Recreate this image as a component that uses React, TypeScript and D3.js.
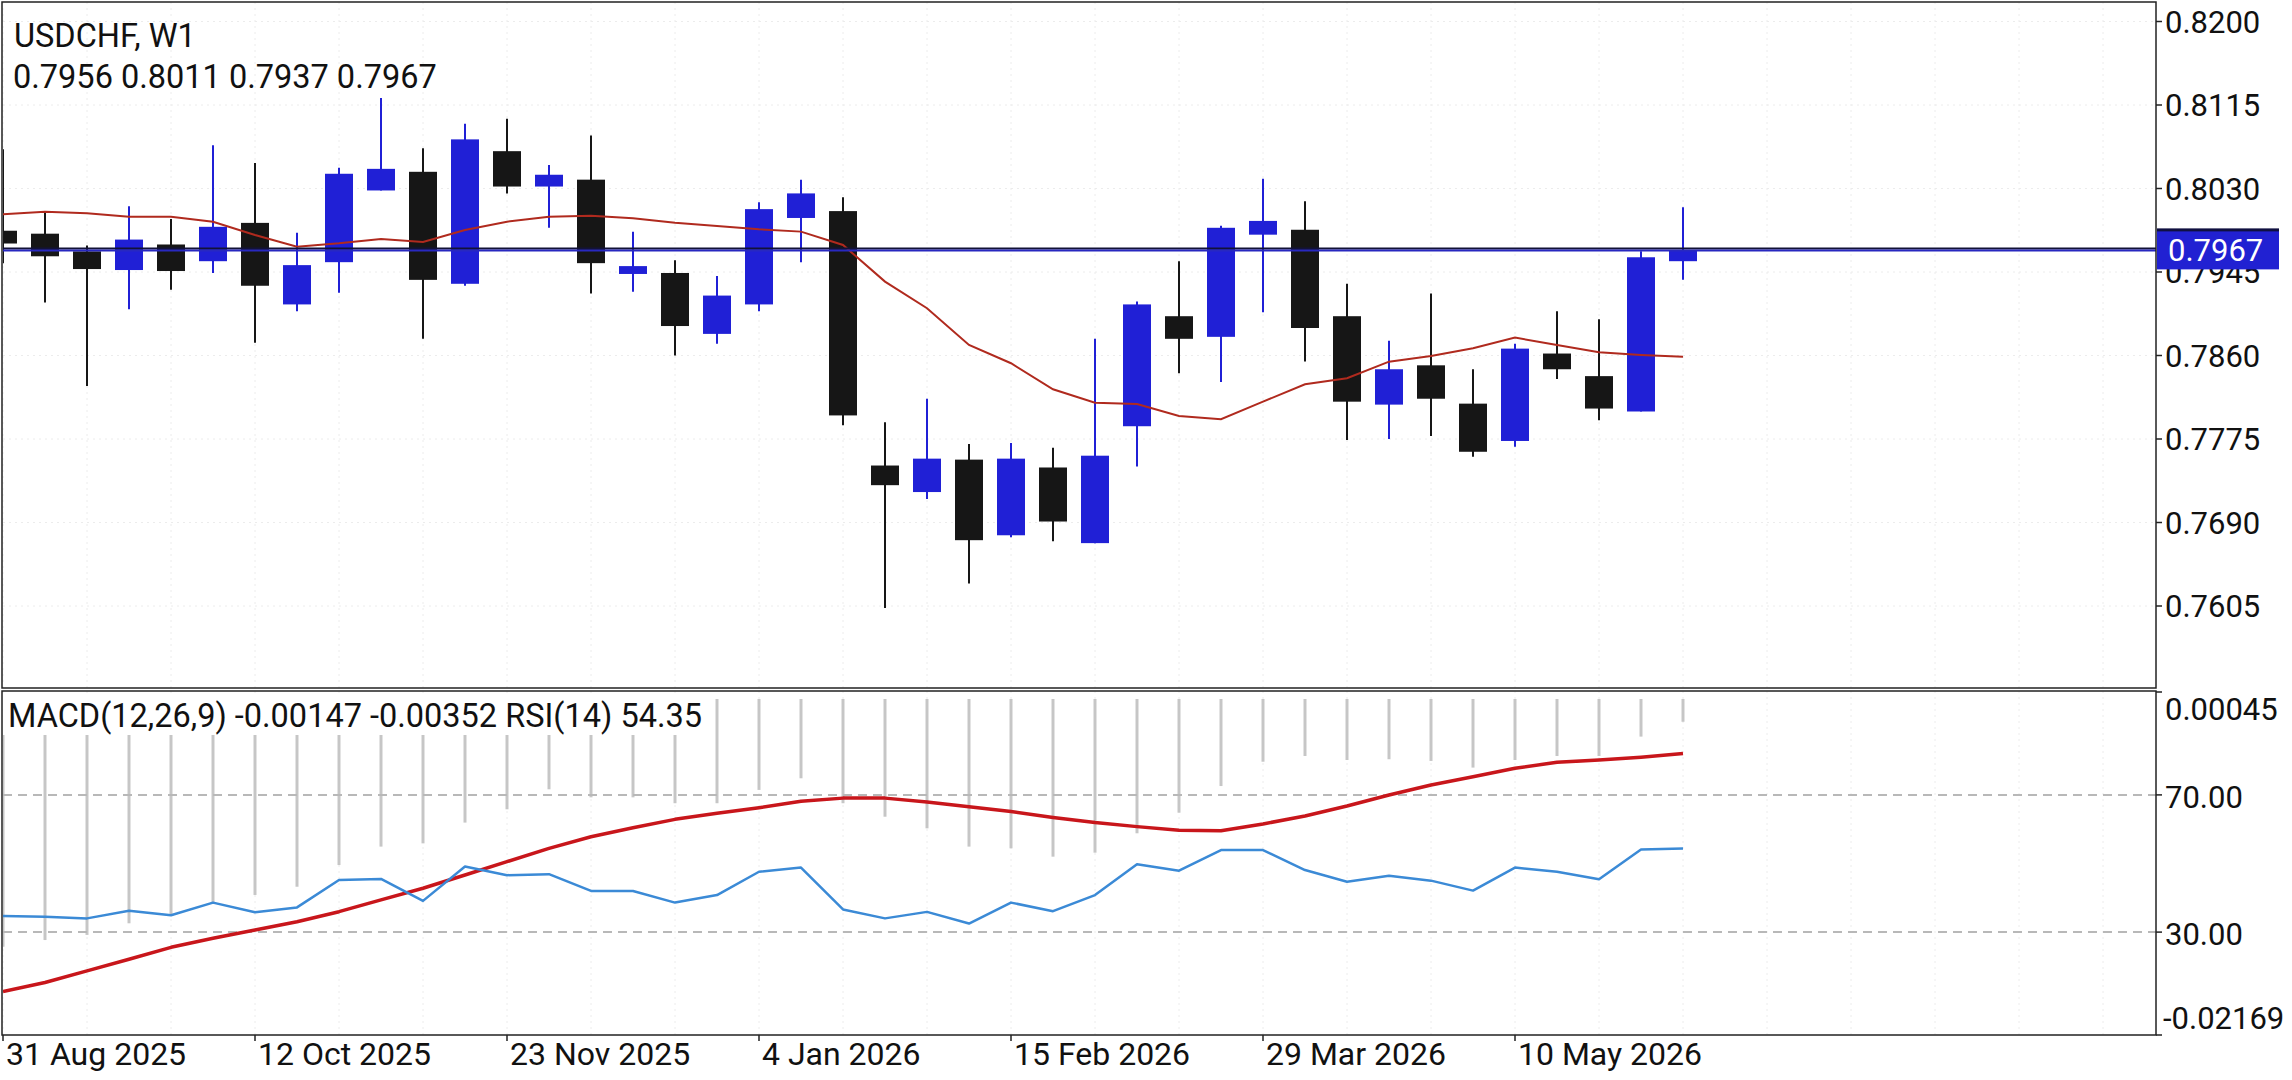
import React, { useEffect } from 'react';
import * as d3 from 'd3';

// weekly USDCHF candles, first bar = week of 31 Aug 2025
const opens = [0.7987, 0.7984, 0.7966, 0.7947, 0.7973, 0.7956, 0.7995, 0.7912, 0.7955, 0.8028, 0.8047, 0.7933, 0.8068, 0.8032, 0.8039, 0.7943, 0.7944, 0.7882, 0.7912, 0.8000, 0.8007, 0.7748, 0.7721, 0.7754, 0.7677, 0.7746, 0.7669, 0.7788, 0.7900, 0.7879, 0.7983, 0.7988, 0.7900, 0.7810, 0.7850, 0.7811, 0.7773, 0.7862, 0.7839, 0.7803, 0.7956];
const highs = [0.8070, 0.8006, 0.7972, 0.8012, 0.7999, 0.8074, 0.8056, 0.7985, 0.8051, 0.8122, 0.8071, 0.8096, 0.8101, 0.8054, 0.8084, 0.7986, 0.7957, 0.7941, 0.8016, 0.8039, 0.8021, 0.7792, 0.7816, 0.7770, 0.7771, 0.7766, 0.7877, 0.7915, 0.7956, 0.7992, 0.8040, 0.8017, 0.7933, 0.7875, 0.7923, 0.7846, 0.7872, 0.7905, 0.7897, 0.7966, 0.8011];
const lows = [0.7954, 0.7914, 0.7829, 0.7907, 0.7927, 0.7944, 0.7873, 0.7905, 0.7924, 0.8028, 0.7877, 0.7931, 0.8025, 0.7990, 0.7923, 0.7925, 0.7860, 0.7872, 0.7905, 0.7955, 0.7789, 0.7603, 0.7714, 0.7628, 0.7675, 0.7671, 0.7669, 0.7747, 0.7842, 0.7833, 0.7904, 0.7854, 0.7774, 0.7775, 0.7778, 0.7757, 0.7767, 0.7836, 0.7794, 0.7803, 0.7937];
const closes = [0.7974, 0.7961, 0.7948, 0.7978, 0.7946, 0.7991, 0.7931, 0.7952, 0.8045, 0.8050, 0.7937, 0.8080, 0.8032, 0.8044, 0.7954, 0.7951, 0.7890, 0.7921, 0.8009, 0.8025, 0.7799, 0.7728, 0.7755, 0.7672, 0.7755, 0.7691, 0.7758, 0.7912, 0.7877, 0.7990, 0.7997, 0.7888, 0.7813, 0.7846, 0.7816, 0.7762, 0.7867, 0.7846, 0.7806, 0.7960, 0.7967];

const maValues = [0.80038, 0.80064, 0.80048, 0.80013, 0.80013, 0.79962, 0.79827, 0.79708, 0.79742, 0.79786, 0.79756, 0.79878, 0.79962, 0.80013, 0.80023, 0.79997, 0.79952, 0.79919, 0.79885, 0.79861, 0.79725, 0.79352, 0.79081, 0.78707, 0.78521, 0.78256, 0.78120, 0.78107, 0.77985, 0.77951, 0.78130, 0.78307, 0.78368, 0.78537, 0.78595, 0.78674, 0.78782, 0.78707, 0.78633, 0.78606, 0.78588];

const macdMain = [-0.01599, -0.01556, -0.01523, -0.01448, -0.01394, -0.01317, -0.01265, -0.01212, -0.01072, -0.00953, -0.00932, -0.00798, -0.00712, -0.00583, -0.00635, -0.00635, -0.00673, -0.00673, -0.00587, -0.00512, -0.00673, -0.00760, -0.00835, -0.00953, -0.00964, -0.01018, -0.00992, -0.00867, -0.00734, -0.00562, -0.00405, -0.00368, -0.00394, -0.00389, -0.00400, -0.00443, -0.00394, -0.00368, -0.00368, -0.00243, -0.00147];
const macdSignal = [-0.01889, -0.01830, -0.01755, -0.01680, -0.01603, -0.01545, -0.01491, -0.01438, -0.01373, -0.01297, -0.01222, -0.01136, -0.01050, -0.00964, -0.00889, -0.00831, -0.00777, -0.00738, -0.00702, -0.00660, -0.00640, -0.00640, -0.00665, -0.00695, -0.00727, -0.00765, -0.00798, -0.00824, -0.00848, -0.00850, -0.00807, -0.00755, -0.00691, -0.00620, -0.00555, -0.00502, -0.00447, -0.00409, -0.00394, -0.00376, -0.00352];
const rsiValues = [34.7, 34.5, 34.0, 36.2, 34.9, 38.6, 35.8, 37.2, 45.2, 45.5, 39.1, 49.1, 46.6, 46.9, 42.0, 42.0, 38.6, 40.8, 47.6, 48.8, 36.6, 34.0, 35.9, 32.5, 38.6, 36.1, 40.8, 49.8, 47.9, 53.9, 53.9, 48.1, 44.7, 46.4, 45.0, 42.1, 48.8, 47.6, 45.4, 54.1, 54.35];

const dateLabels = ['31 Aug 2025', '12 Oct 2025', '23 Nov 2025', '4 Jan 2026', '15 Feb 2026', '29 Mar 2026', '10 May 2026'];
const dateLabelBars = [0, 6, 12, 18, 24, 30, 36];
const priceTicks = [0.8200, 0.8115, 0.8030, 0.7945, 0.7860, 0.7775, 0.7690, 0.7605];
const rsiLevels = [70, 30];
const macdRange = [-0.02169, 0.00045];
const bid = 0.7967;
const ask = 0.7969;
const title = 'USDCHF, W1';
const ohlcText = '0.7956 0.8011 0.7937 0.7967';
const indicatorText = 'MACD(12,26,9) -0.00147 -0.00352 RSI(14) 54.35';

const W = 2292;
const H = 1080;
const left = 3;
const right = 2156;
const mainTop = 2;
const mainBottom = 688;
const subTop = 691;
const subBottom = 1035;
const step = 42;
const bodyW = 28;

const BULL = '#2020d6';
const BEAR = '#161616';
const FONT = 'Roboto, "Noto Sans", sans-serif';

export default function App() {
  useEffect(() => {
    document.body.style.margin = '0';
  }, []);

  const n = closes.length;
  const x = d3.scaleLinear().domain([0, n - 1]).range([left, left + (n - 1) * step]);
  const yP = d3.scaleLinear().domain([0.7605, 0.8200]).range([606, 21.5]);
  const yR = d3.scaleLinear().domain([0, 100]).range([subBottom, subTop + 1]);
  const yM = d3.scaleLinear().domain(macdRange).range([subBottom, subTop + 1]);

  const maLine = d3.line<number>().x((_, i) => x(i)).y(d => yP(d));
  const sigLine = d3.line<number>().x((_, i) => x(i)).y(d => yM(d));
  const rsiLine = d3.line<number>().x((_, i) => x(i)).y(d => yR(d));

  // faint grid every 2 bars, continuing into the empty right side
  const gridBars = d3.range(0, 52, 2).filter(i => x(i) < right);

  const axisTxt = { fontFamily: FONT, fontSize: 31, fill: '#111' } as const;
  const headTxt = { fontFamily: FONT, fontSize: 32.5, fill: '#111' } as const;
  const dateTxt = { fontFamily: FONT, fontSize: 32, fill: '#111' } as const;

  return (
    <svg width={W} height={H} style={{ position: 'absolute', left: 0, top: 0, background: '#fff' }}>
      <defs>
        <clipPath id="mainClip">
          <rect x={left} y={mainTop} width={right - left} height={mainBottom - mainTop} />
        </clipPath>
        <clipPath id="subClip">
          <rect x={left} y={subTop} width={right - left} height={subBottom - subTop} />
        </clipPath>
      </defs>
      <rect x={0} y={0} width={W} height={H} fill="#fff" />

      {/* grid */}
      <g stroke="#ececec" strokeWidth={1} strokeDasharray="2,4">
        {gridBars.map(i => (
          <line key={'gv' + i} x1={x(i)} x2={x(i)} y1={mainTop} y2={mainBottom} />
        ))}
        {gridBars.map(i => (
          <line key={'gs' + i} x1={x(i)} x2={x(i)} y1={subTop} y2={subBottom} />
        ))}
        {priceTicks.map(v => (
          <line key={'gh' + v} x1={left} x2={right} y1={yP(v)} y2={yP(v)} />
        ))}
      </g>

      {/* main pane */}
      <g clipPath="url(#mainClip)">
        {closes.map((c, i) => {
          const o = opens[i];
          const up = c >= o;
          const col = up ? BULL : BEAR;
          const top = yP(Math.max(o, c));
          const bot = yP(Math.min(o, c));
          return (
            <g key={'c' + i}>
              <line x1={x(i)} x2={x(i)} y1={yP(highs[i])} y2={yP(lows[i])} stroke={col} strokeWidth={2} />
              <rect x={x(i) - bodyW / 2} y={top} width={bodyW} height={Math.max(bot - top, 2)} fill={col} />
            </g>
          );
        })}
        <path d={maLine(maValues) || ''} fill="none" stroke="#b02a1e" strokeWidth={2} />
        <line x1={left} x2={right} y1={yP(ask)} y2={yP(ask)} stroke="#121238" strokeWidth={2} />
        <line x1={left} x2={right} y1={yP(bid)} y2={yP(bid)} stroke="#2828c0" strokeWidth={2} />
      </g>

      <text x={14} y={47} {...headTxt}>{title}</text>
      <text x={13} y={88} {...headTxt}>{ohlcText}</text>

      {/* sub pane: MACD + RSI */}
      <g clipPath="url(#subClip)">
        {macdMain.map((v, i) => (
          <line key={'h' + i} x1={x(i)} x2={x(i)} y1={yM(0)} y2={yM(v)} stroke="#c6c6c6" strokeWidth={3} />
        ))}
        {rsiLevels.map(l => (
          <line key={'lv' + l} x1={left} x2={right} y1={yR(l)} y2={yR(l)} stroke="#b8b8b8" strokeWidth={2} strokeDasharray="9,6" />
        ))}
        <path d={sigLine(macdSignal) || ''} fill="none" stroke="#c8161b" strokeWidth={3.5} strokeLinejoin="round" />
        <path d={rsiLine(rsiValues) || ''} fill="none" stroke="#3b8ad6" strokeWidth={2.5} strokeLinejoin="round" />
      </g>
      <rect x={left} y={695} width={706} height={40} fill="#fff" />
      <text x={8} y={727} {...headTxt}>{indicatorText}</text>

      {/* frames */}
      <g stroke="#222" strokeWidth={1.5} fill="none">
        <rect x={2} y={mainTop} width={right - 2} height={mainBottom - mainTop} />
        <rect x={2} y={subTop} width={right - 2} height={subBottom - subTop} />
      </g>

      {/* right price axis */}
      {priceTicks.map(v => (
        <g key={'pt' + v}>
          <line x1={right} x2={right + 6} y1={yP(v)} y2={yP(v)} stroke="#222" strokeWidth={1.5} />
          <text x={2165} y={yP(v) + 11} {...axisTxt}>{v.toFixed(4)}</text>
        </g>
      ))}
      <rect x={right + 1} y={yP(bid) - 22} width={122} height={37} fill="#101040" />
      <rect x={right + 1} y={yP(bid) - 19} width={122} height={38} fill="#2121d2" />
      <text x={2168} y={yP(bid) + 11} {...axisTxt} fill="#fff">{bid.toFixed(4)}</text>

      {/* sub axis */}
      {rsiLevels.map(l => (
        <g key={'rl' + l}>
          <line x1={right} x2={right + 6} y1={yR(l)} y2={yR(l)} stroke="#222" strokeWidth={1.5} />
          <text x={2165} y={yR(l) + 13} {...axisTxt}>{l.toFixed(2)}</text>
        </g>
      ))}
      <line x1={right} x2={right + 6} y1={yM(macdRange[1])} y2={yM(macdRange[1])} stroke="#222" strokeWidth={1.5} />
      <text x={2165} y={yM(macdRange[1]) + 28} {...axisTxt}>{macdRange[1].toFixed(5)}</text>
      <line x1={right} x2={right + 6} y1={yM(macdRange[0])} y2={yM(macdRange[0])} stroke="#222" strokeWidth={1.5} />
      <text x={2163} y={yM(macdRange[0]) - 6} {...axisTxt}>{macdRange[0].toFixed(5)}</text>

      {/* time axis */}
      {dateLabels.map((d, k) => {
        const xi = x(dateLabelBars[k]);
        return (
          <g key={'d' + d}>
            <line x1={xi} x2={xi} y1={subBottom} y2={subBottom + 6} stroke="#222" strokeWidth={1.5} />
            <text x={xi + 3} y={1065} {...dateTxt}>{d}</text>
          </g>
        );
      })}
    </svg>
  );
}
